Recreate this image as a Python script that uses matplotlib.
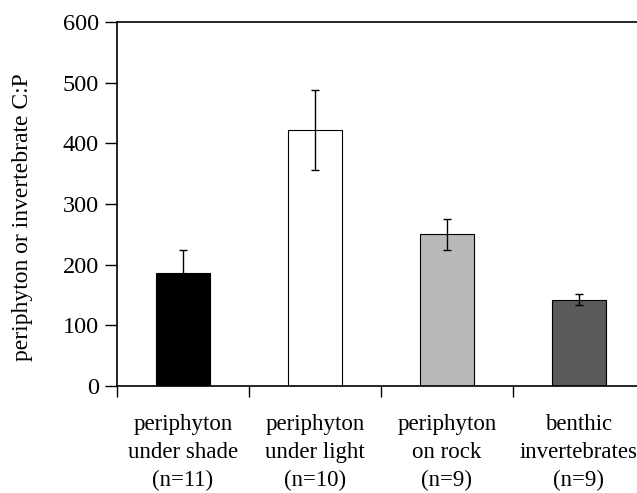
import matplotlib.pyplot as plt
from matplotlib.ticker import FixedLocator

plt.rcParams['font.family'] = ['Liberation Serif', 'DejaVu Serif']

# andmed
kategooriad = ["periphyton\nunder shade\n(n=11)", "periphyton\nunder light\n(n=10)",
               "periphyton\non rock\n(n=9)", "benthic\ninvertebrates\n(n=9)"]
cp_vaartused = [186, 422, 250, 142]
vead = [39, 66, 26, 9]
varvid = ["#000000", "#ffffff", "#b9b9b9", "#5a5a5a"]
y_tikid = [0, 100, 200, 300, 400, 500, 600]

fig = plt.figure(figsize=(6.37, 4.93), dpi=100)
ax = fig.add_axes([117 / 637, 107 / 493, 528 / 637, 364 / 493])

kohad = list(range(len(cp_vaartused)))
ax.bar(kohad, cp_vaartused, width=0.41, color=varvid, edgecolor="black", linewidth=0.8,
       yerr=vead, capsize=3, error_kw=dict(ecolor="black", elinewidth=1, capthick=1))

ax.set_xlim(-0.5, 3.5)
ax.set_ylim(0, 600)
ax.set_yticks(y_tikid)
ax.set_xticks(kohad)
ax.set_xticklabels(kategooriad, fontsize=16.5, linespacing=1.45)
ax.tick_params(axis="x", which="major", length=0, pad=20)
ax.xaxis.set_minor_locator(FixedLocator([-0.5, 0.5, 1.5, 2.5, 3.5]))
ax.tick_params(axis="x", which="minor", length=8, direction="out", width=1)
ax.tick_params(axis="y", labelsize=17.5, length=9, width=1, direction="out", pad=4)
ax.set_ylabel("periphyton or invertebrate C:P", fontsize=17)
ax.yaxis.set_label_coords(-0.16, 0.464)

for s in ["left", "bottom", "top"]:
    ax.spines[s].set_linewidth(1.2)
ax.spines["right"].set_visible(False)

fig.savefig("out.png", dpi=100)
